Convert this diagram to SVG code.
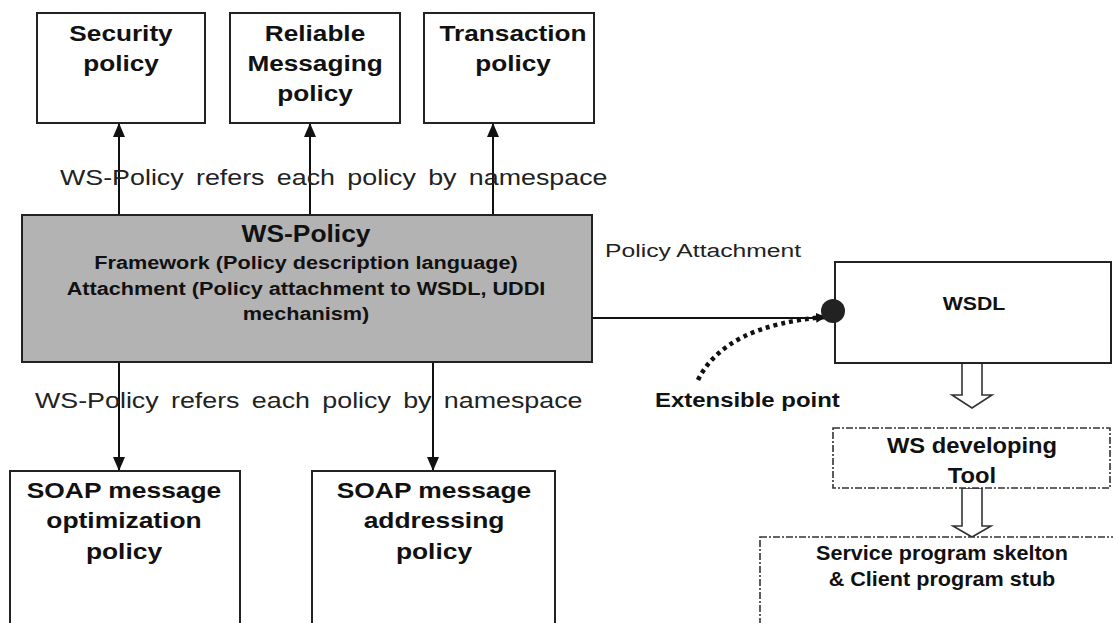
<svg xmlns="http://www.w3.org/2000/svg" width="1113" height="623" viewBox="0 0 1113 623">
<defs>
<style>
.box{fill:#fff;stroke:#222;stroke-width:2}
.gbox{fill:#b3b3b3;stroke:#222;stroke-width:2}
.dbox{fill:#fff;stroke:#333;stroke-width:1.6;stroke-dasharray:7 2 2 2}
.t{font-family:"Liberation Sans",Arial,sans-serif;font-weight:bold;fill:#111;text-anchor:middle}
.n{font-family:"Liberation Sans",Arial,sans-serif;fill:#222}
.ln{stroke:#111;stroke-width:2;fill:none}
.hol{fill:#fff;stroke:#333;stroke-width:1.6}
</style>
<marker id="ah" markerUnits="userSpaceOnUse" markerWidth="14" markerHeight="14" refX="14" refY="6" orient="auto">
<path d="M0,0 L14,6 L0,12 z" fill="#111"/>
</marker>
<marker id="ah2" markerUnits="userSpaceOnUse" markerWidth="12" markerHeight="12" refX="10" refY="5" orient="auto">
<path d="M0,0 L10,5 L0,10 z" fill="#111"/>
</marker>
</defs>
<rect width="1113" height="623" fill="#fff"/>

<g id="connectors">
<line class="ln" x1="119" y1="215" x2="119" y2="123" marker-end="url(#ah)"/>
<line class="ln" x1="310" y1="215" x2="310" y2="123" stroke="#777" marker-end="url(#ah)"/>
<line class="ln" x1="493" y1="215" x2="493" y2="123" marker-end="url(#ah)"/>
<line class="ln" x1="119" y1="362" x2="119" y2="471" marker-end="url(#ah)"/>
<line class="ln" x1="433" y1="362" x2="433" y2="471" marker-end="url(#ah)"/>
<line class="ln" x1="592" y1="318" x2="826" y2="318"/>
<path d="M698,380 Q725,325 826,317" stroke="#111" stroke-width="4.5" stroke-dasharray="4 4" fill="none" marker-end="url(#ah2)"/>
<path class="hol" d="M962,363 L982,363 L982,395 L992,395 L972,408 L952,395 L962,395 z"/>
<path class="hol" d="M962,488 L982,488 L982,526 L991,526 L972,537 L953,526 L962,526 z"/>
</g>

<g id="security">
<rect class="box" x="37" y="13" width="168" height="110"/>
<text class="t" font-size="22" transform="translate(121,41) scale(1.19 1)">Security</text>
<text class="t" font-size="22" transform="translate(121,71) scale(1.19 1)">policy</text>
</g>
<g id="reliable">
<rect class="box" x="230" y="13" width="170" height="110"/>
<text class="t" font-size="22" transform="translate(315,41) scale(1.19 1)">Reliable</text>
<text class="t" font-size="22" transform="translate(315,71) scale(1.19 1)">Messaging</text>
<text class="t" font-size="22" transform="translate(315,101) scale(1.19 1)">policy</text>
</g>
<g id="transaction">
<rect class="box" x="424" y="13" width="170" height="110"/>
<text class="t" font-size="22" transform="translate(513,41) scale(1.19 1)">Transaction</text>
<text class="t" font-size="22" transform="translate(513,71) scale(1.19 1)">policy</text>
</g>

<text class="n" font-size="22" word-spacing="4" transform="translate(60,185) scale(1.22 1)">WS-Policy refers each policy by namespace</text>

<g id="wspolicy">
<rect class="gbox" x="22" y="215" width="570" height="147"/>
<text class="t" font-size="24" transform="translate(306,242) scale(1.1 1)">WS-Policy</text>
<text class="t" font-size="19" transform="translate(306,269) scale(1.14 1)">Framework (Policy description language)</text>
<text class="t" font-size="19" transform="translate(306,295) scale(1.14 1)">Attachment (Policy attachment to WSDL, UDDI</text>
<text class="t" font-size="19" transform="translate(306,320) scale(1.14 1)">mechanism)</text>
</g>

<text class="n" font-size="19" transform="translate(605,257) scale(1.3 1)">Policy Attachment</text>

<g id="wsdl">
<rect class="box" x="835" y="262" width="276" height="101"/>
<text class="t" font-size="19" transform="translate(974,310) scale(1.12 1)">WSDL</text>
</g>
<circle cx="833" cy="311" r="12" fill="#222"/>

<text class="t" font-size="21" style="text-anchor:start" transform="translate(655,407) scale(1.14 1)">Extensible point</text>

<text class="n" font-size="22" word-spacing="4" transform="translate(35,408) scale(1.22 1)">WS-Policy refers each policy by namespace</text>

<g id="soapopt">
<rect class="box" x="10" y="471" width="230" height="160"/>
<text class="t" font-size="22" transform="translate(124,498) scale(1.2 1)">SOAP message</text>
<text class="t" font-size="22" transform="translate(124,528) scale(1.2 1)">optimization</text>
<text class="t" font-size="22" transform="translate(124,559) scale(1.2 1)">policy</text>
</g>
<g id="soapaddr">
<rect class="box" x="312" y="471" width="243" height="160"/>
<text class="t" font-size="22" transform="translate(434,498) scale(1.2 1)">SOAP message</text>
<text class="t" font-size="22" transform="translate(434,528) scale(1.2 1)">addressing</text>
<text class="t" font-size="22" transform="translate(434,559) scale(1.2 1)">policy</text>
</g>

<g id="wstool">
<rect class="dbox" x="833" y="428" width="277" height="60"/>
<text class="t" font-size="22" transform="translate(972,453) scale(1.08 1)">WS developing</text>
<text class="t" font-size="22" transform="translate(972,483) scale(1.08 1)">Tool</text>
</g>
<g id="skeleton">
<rect class="dbox" x="760" y="537" width="360" height="100"/>
<text class="t" font-size="20" transform="translate(942,560) scale(1.08 1)">Service program skelton</text>
<text class="t" font-size="20" transform="translate(942,586) scale(1.08 1)">&amp; Client program stub</text>
</g>
</svg>
